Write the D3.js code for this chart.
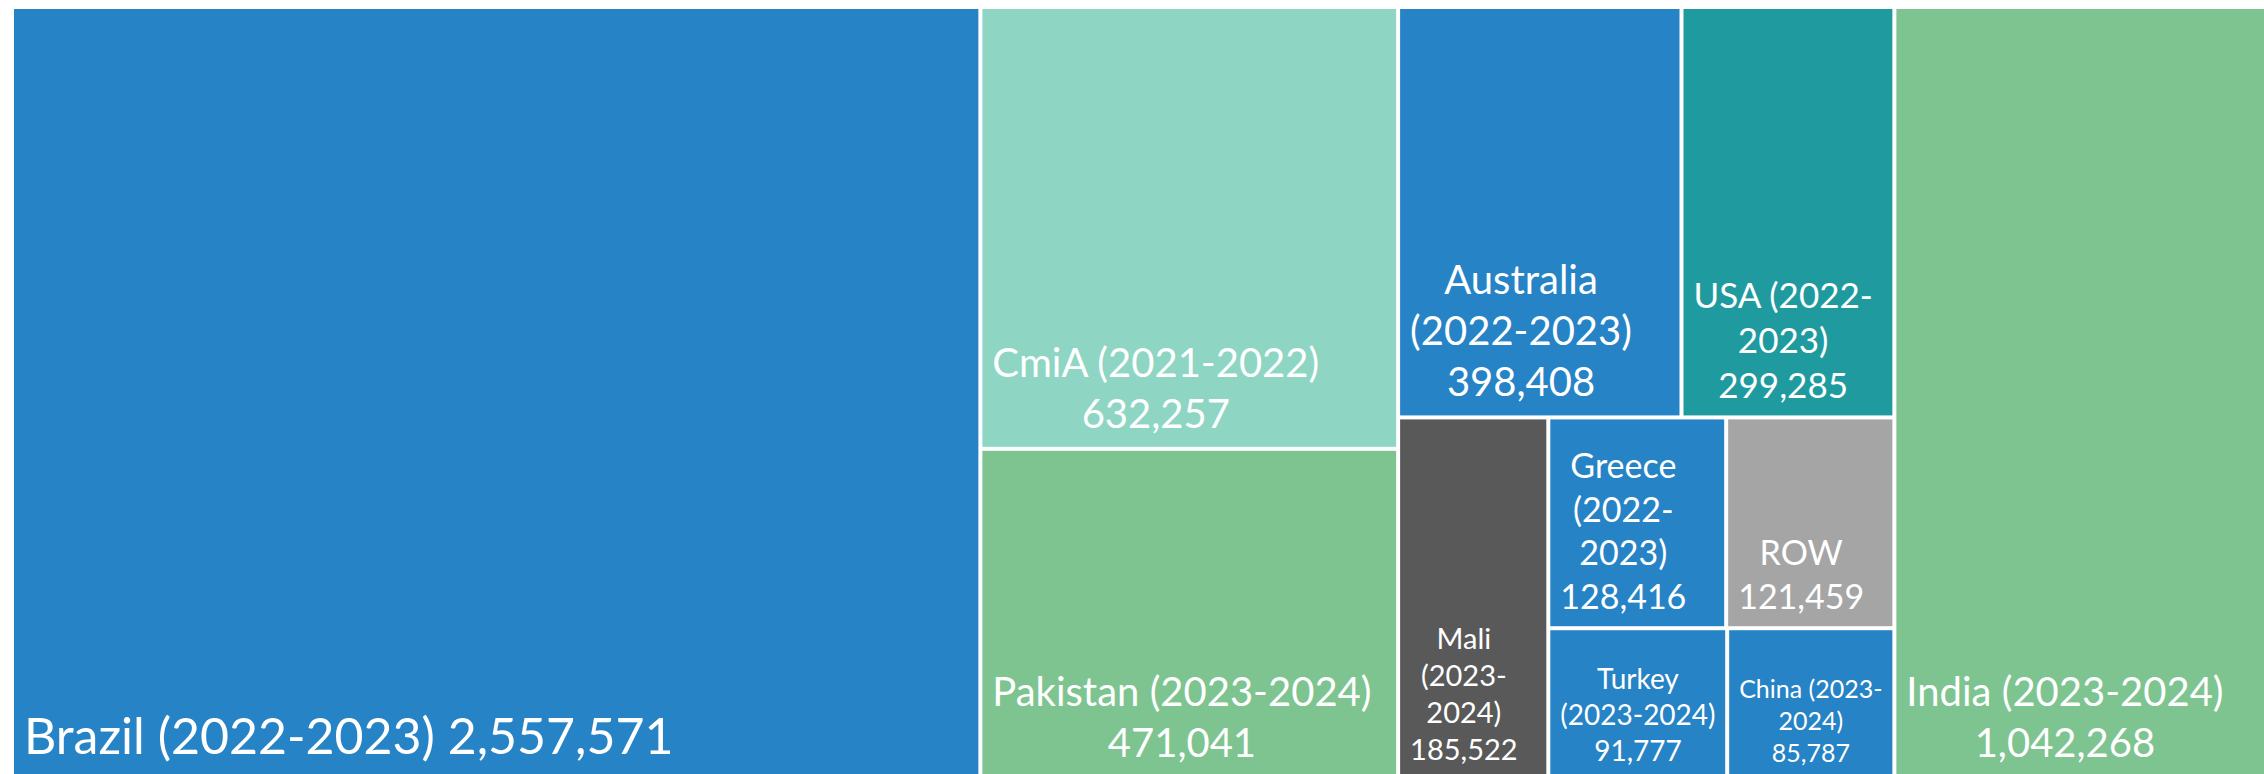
<!DOCTYPE html>
<html>
<head>
<meta charset="utf-8">
<script src="https://cdn.jsdelivr.net/npm/d3@7"></script>
<style>
  html, body { margin: 0; padding: 0; background: #ffffff; overflow: hidden; }
  svg { display: block; }
</style>
</head>
<body>
<script>
// ---- data ----
const categories = [
  "Brazil (2022-2023)", "CmiA (2021-2022)", "Pakistan (2023-2024)",
  "Australia (2022-2023)", "USA (2022-2023)", "Mali (2023-2024)",
  "Greece (2022-2023)", "ROW", "Turkey (2023-2024)", "China (2023-2024)",
  "India (2023-2024)"
];
const values = [2557571, 632257, 471041, 398408, 299285, 185522, 128416, 121459, 91777, 85787, 1042268];
const colors = ["#2683C6", "#8ED6C3", "#7EC491", "#2683C6", "#1F9BA0", "#595959",
                "#2683C6", "#A5A5A5", "#2683C6", "#2683C6", "#7EC491"];
// how the category label wraps in its box
const labelLines = [
  ["Brazil (2022-2023)"], ["CmiA (2021-2022)"], ["Pakistan (2023-2024)"],
  ["Australia", "(2022-2023)"], ["USA (2022-", "2023)"], ["Mali", "(2023-", "2024)"],
  ["Greece", "(2022-", "2023)"], ["ROW"], ["Turkey", "(2023-2024)"],
  ["China (2023-", "2024)"], ["India (2023-2024)"]
];
const valueInline = [true, false, false, false, false, false, false, false, false, false, false];
const fontSizes = [50, 40, 40, 40, 35, 29, 34, 34, 28, 25, 40];
// nesting of the tiles (indices into categories)
const nesting = [0, [1, 2], [[3, 4], [5, [[6, 7], [8, 9]]]], 10];

// ---- build hierarchy ----
function build(n) {
  if (Array.isArray(n)) return { children: n.map(build) };
  return { idx: n, name: categories[n], value: values[n] };
}
const root = d3.hierarchy(build(nesting)).sum(d => d.value || 0);

const W = 2264, H = 774;
const svg = d3.select("body").append("svg").attr("width", W).attr("height", H);
const g = svg.append("g").attr("transform", "translate(14,9)");

d3.treemap()
  .size([2273, 767])
  .paddingInner(4)
  .round(false)
  .tile((node, x0, y0, x1, y1) => {
    (node.depth % 2 === 0 ? d3.treemapDice : d3.treemapSlice)(node, x0, y0, x1, y1);
  })(root);

const fmt = d3.format(",");
const leaves = root.leaves();

const cell = g.selectAll("g.cell").data(leaves).join("g").attr("class", "cell");
cell.append("rect")
  .attr("x", d => d.x0).attr("y", d => d.y0)
  .attr("width", d => d.x1 - d.x0).attr("height", d => d.y1 - d.y0)
  .attr("fill", d => colors[d.data.idx]);

cell.each(function(d) {
  const i = d.data.idx;
  const fs = fontSizes[i];
  const lines = labelLines[i].slice();
  if (valueInline[i]) lines[lines.length - 1] += " " + fmt(values[i]);
  else lines.push(fmt(values[i]));
  const lh = fs * 1.28;
  const lastBase = d.y1 - (7 + 0.3 * fs);
  const t = d3.select(this).append("text")
    .attr("font-family", "Lato, 'Open Sans', sans-serif")
    .attr("font-size", fs)
    .attr("fill", "#ffffff")
    .attr("text-anchor", "middle");
  const spans = t.selectAll("tspan").data(lines).join("tspan")
    .attr("y", (l, k) => lastBase - (lines.length - 1 - k) * lh)
    .text(l => l);
  let maxW = 0;
  spans.each(function() { maxW = Math.max(maxW, this.getComputedTextLength()); });
  spans.attr("x", d.x0 + 10 + maxW / 2);
});
</script>
</body>
</html>
